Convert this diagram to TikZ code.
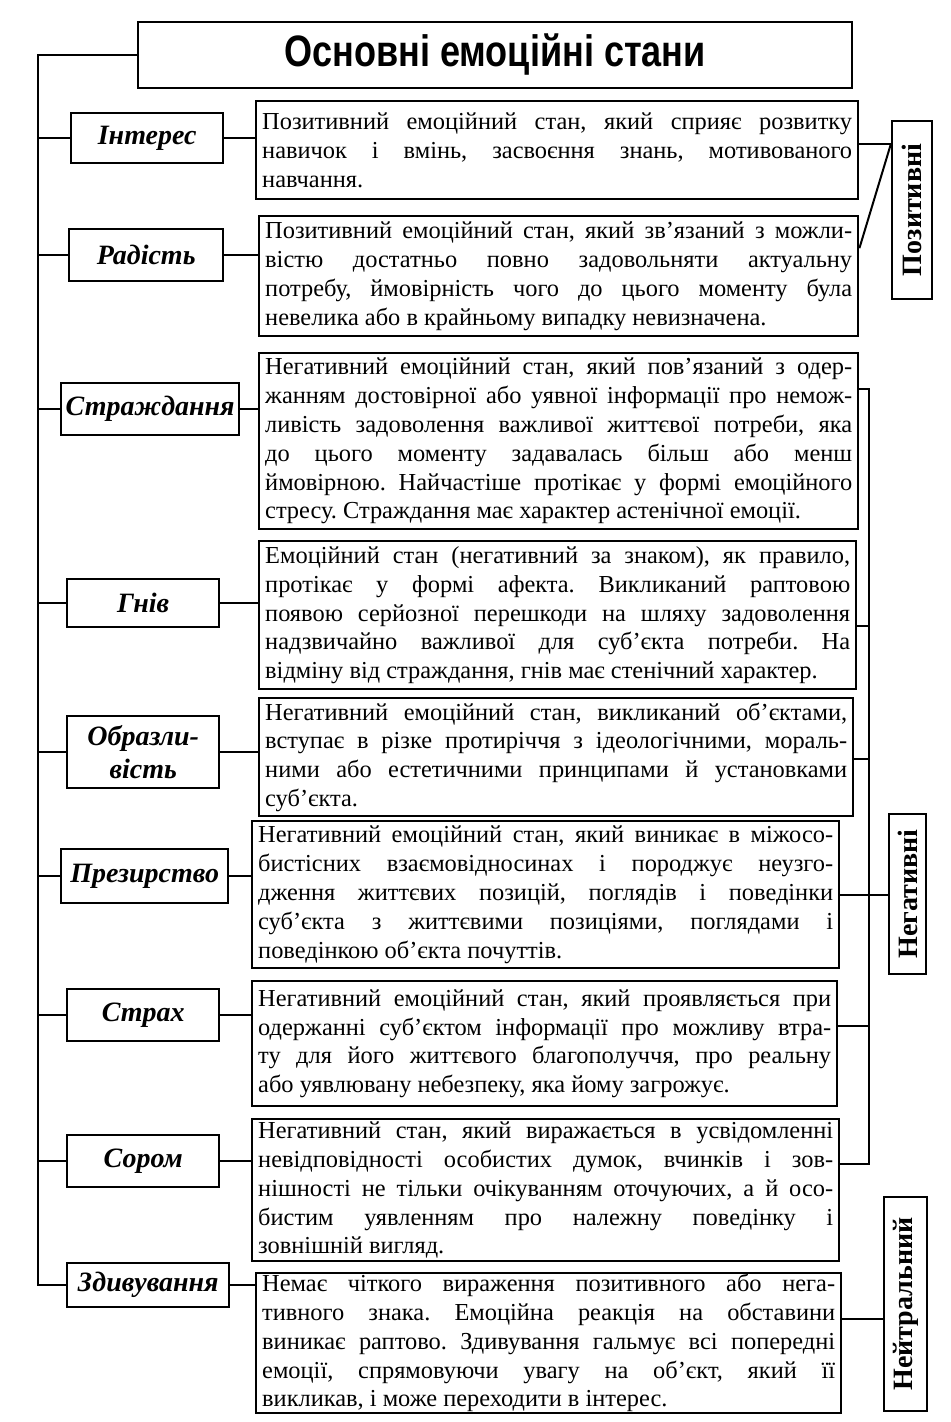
\documentclass[tikz,border=0pt]{standalone}
\usepackage{fontspec}
\setmainfont{Liberation Serif}
\setsansfont{Liberation Sans}
\usetikzlibrary{positioning}
\tolerance=9999
\hbadness=10000
\frenchspacing
\tikzset{
  box/.style={draw, line width=1.2pt, inner sep=0pt},
  headbox/.style={box, font=\fontsize{22}{24}\selectfont\sffamily\bfseries},
  emo/.style={box, anchor=north west, align=center, font=\fontsize{14}{16.5}\selectfont\bfseries\itshape},
  desc/.style={box, anchor=north west, inner xsep=3pt, align=justify, font=\fontsize{12.2}{14.4}\selectfont},
  group/.style={box, rotate=90, font=\fontsize{14}{16}\selectfont\bfseries},
  link/.style={line width=1pt}
}
\begin{document}
\begin{tikzpicture}[x=0.5pt,y=-0.5pt]
  \useasboundingbox (0,0) rectangle (951,1422);

  % Title
  \node[headbox, minimum width=357pt, minimum height=33pt] (head) at (495,55) {\scalebox{0.82}[1]{Основні емоційні стани}};

  % Emotions
  \node[emo, minimum width=76pt, minimum height=25pt] (interes) at (70,112) {Інтерес};
  \node[emo, minimum width=77pt, minimum height=26pt] (radist) at (68,228) {Радість};
  \node[emo, minimum width=89pt, minimum height=26pt] (strazh) at (60,382) {Страждання};
  \node[emo, minimum width=76pt, minimum height=24pt] (hniv) at (66,578) {Гнів};
  \node[emo, minimum width=76pt, minimum height=36pt] (obraz) at (66,715) {Образли-\\вість};
  \node[emo, minimum width=83.5pt, minimum height=27pt] (prezyr) at (60,848) {Презирство};
  \node[emo, minimum width=76pt, minimum height=26pt] (strakh) at (66,988) {Страх};
  \node[emo, minimum width=76pt, minimum height=26pt] (sorom) at (66,1134) {Сором};
  \node[emo, minimum width=81pt, minimum height=22pt] (zdyv) at (66,1262) {Здивування};

  % Descriptions
  \node[desc, text width=295pt, minimum height=49pt] (d1) at (255,100) {%
    Позитивний емоційний стан, який сприяє розвитку\linebreak
    навичок і вмінь, засвоєння знань, мотивованого\linebreak
    навчання.};
  \node[desc, text width=293.5pt, minimum height=60pt] (d2) at (258,215) {%
    Позитивний емоційний стан, який зв’язаний з можли-\linebreak
    вістю достатньо повно задовольняти актуальну\linebreak
    потребу, ймовірність чого до цього моменту була\linebreak
    невелика або в крайньому випадку невизначена.};
  \node[desc, text width=293.5pt, minimum height=88pt] (d3) at (258,352) {%
    Негативний емоційний стан, який пов’язаний з одер-\linebreak
    жанням достовірної або уявної інформації про немож-\linebreak
    ливість задоволення важливої життєвої потреби, яка\linebreak
    до цього моменту задавалась більш або менш\linebreak
    ймовірною. Найчастіше протікає у формі емоційного\linebreak
    стресу. Страждання має характер астенічної емоції.};
  \node[desc, text width=292.5pt, minimum height=74pt] (d4) at (258,540) {%
    Емоційний стан (негативний за знаком), як правило,\linebreak
    протікає у формі афекта. Викликаний раптовою\linebreak
    появою серйозної перешкоди на шляху задоволення\linebreak
    надзвичайно важливої для суб’єкта потреби. На\linebreak
    відміну від страждання, гнів має стенічний характер.};
  \node[desc, text width=291pt, minimum height=59pt] (d5) at (258,697) {%
    Негативний емоційний стан, викликаний об’єктами,\linebreak
    вступає в різке протиріччя з ідеологічними, мораль-\linebreak
    ними або естетичними принципами й установками\linebreak
    суб’єкта.};
  \node[desc, text width=287.5pt, minimum height=73.5pt] (d6) at (251,820) {%
    Негативний емоційний стан, який виникає в міжосо-\linebreak
    бистісних взаємовідносинах і породжує неузго-\linebreak
    дження життєвих позицій, поглядів і поведінки\linebreak
    суб’єкта з життєвими позиціями, поглядами і\linebreak
    поведінкою об’єкта почуттів.};
  \node[desc, text width=286.5pt, minimum height=62.5pt] (d7) at (251,980) {%
    Негативний емоційний стан, який проявляється при\linebreak
    одержанні суб’єктом інформації про можливу втра-\linebreak
    ту для його життєвого благополуччя, про реальну\linebreak
    або уявлювану небезпеку, яка йому загрожує.};
  \node[desc, text width=287.5pt, minimum height=71pt] (d8) at (251,1118) {%
    Негативний стан, який виражається в усвідомленні\linebreak
    невідповідності особистих думок, вчинків і зов-\linebreak
    нішності не тільки очікуванням оточуючих, а й осо-\linebreak
    бистим уявленням про належну поведінку і\linebreak
    зовнішній вигляд.};
  \node[desc, text width=286.5pt, minimum height=70pt] (d9) at (255,1272) {%
    Немає чіткого вираження позитивного або нега-\linebreak
    тивного знака. Емоційна реакція на обставини\linebreak
    виникає раптово. Здивування гальмує всі попередні\linebreak
    емоції, спрямовуючи увагу на об’єкт, який її\linebreak
    викликав, і може переходити в інтерес.};

  % Groups
  \node[group, minimum width=89pt, minimum height=20pt] (pos) at (912,210) {Позитивні};
  \node[group, minimum width=80pt, minimum height=18.5pt] (neg) at (907.5,894) {Негативні};
  \node[group, minimum width=107pt, minimum height=21.5pt] (neut) at (905.5,1304) {Нейтральний};

  % Left spine
  \coordinate (spine) at (38,0);
  \draw[link] (head.west) -- (head.west -| spine) -- (spine |- zdyv.west) -- (zdyv.west);
  \foreach \n in {interes,radist,strazh,hniv,obraz,prezyr,strakh,sorom}
    \draw[link] (spine |- \n.west) -- (\n.west);

  % Emotion to description
  \foreach \n/\d in {interes/d1,radist/d2,strazh/d3,hniv/d4,obraz/d5,prezyr/d6,strakh/d7,sorom/d8,zdyv/d9}
    \draw[link] (\n.east) -- (\n.east -| \d.west);

  % Positive
  \draw[link] ([yshift=3pt]d1.east) coordinate (n1) -- (n1 -| pos.north) coordinate (pjoin);
  \draw[link] ([yshift=14pt]d2.east) -- (pjoin);

  % Negative
  \coordinate (negbar) at (869,0);
  \path ([yshift=26pt]d3.east) coordinate (n3)
        ([yshift=-5.5pt]d4.east) coordinate (n4)
        ([yshift=-1pt]d5.east) coordinate (n5)
        ([yshift=9pt]d7.east) coordinate (n7)
        ([yshift=13pt]d8.east) coordinate (n8);
  \draw[link] (n3) -- (n3 -| negbar) -- (negbar |- n8) -- (n8);
  \foreach \c in {n4,n5,n7}
    \draw[link] (\c) -- (\c -| negbar);
  \draw[link] (d6.east) -- (d6.east -| neg.north);

  % Neutral
  \draw[link] ([yshift=12pt]d9.east) coordinate (n9) -- (n9 -| neut.north);
\end{tikzpicture}
\end{document}
